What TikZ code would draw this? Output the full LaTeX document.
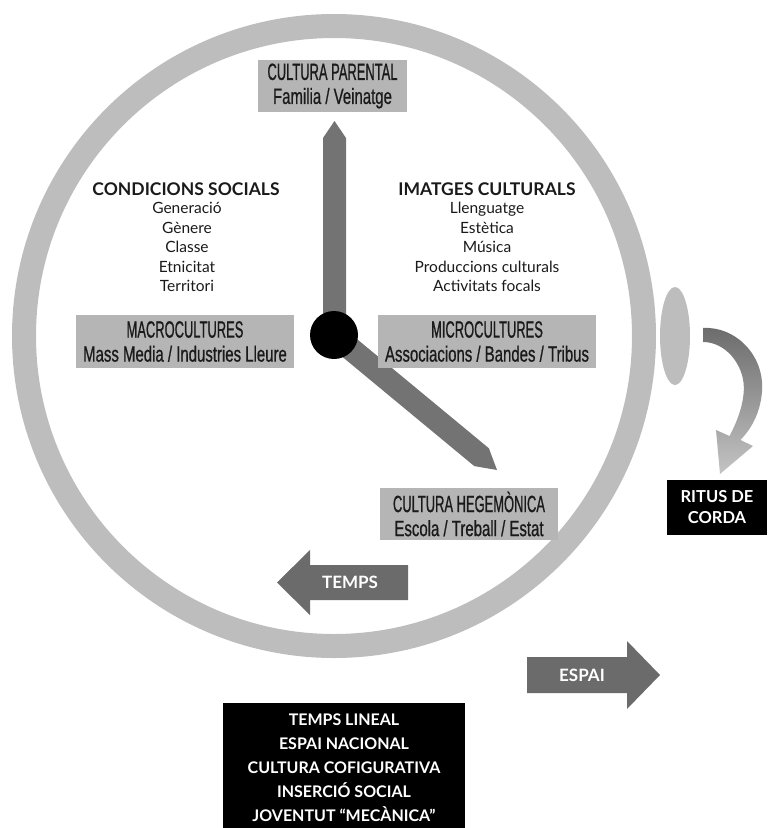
\documentclass[tikz,border=0pt]{standalone}
\usepackage{fontspec}
\setmainfont{Lato}
\newfontfamily\condA[FakeStretch=0.55,FakeBold=0.7]{Liberation Sans}
\newfontfamily\condB[FakeStretch=0.68,FakeBold=0.7]{Liberation Sans}
\newcommand{\boxtop}[1]{{\condA\fontsize{23.5}{24}\selectfont #1}}
\newcommand{\boxbot}[1]{{\condB\fontsize{22}{24}\selectfont #1}}
\usetikzlibrary{shapes.geometric,shapes.arrows}
\definecolor{ringgray}{HTML}{BDBDBD}
\definecolor{handgray}{HTML}{737373}
\definecolor{boxgray}{HTML}{B5B5B5}
\definecolor{arrowgray}{HTML}{6B6B6B}
\definecolor{textdark}{HTML}{1A1A1A}
\tikzset{
  graybox/.style={fill=boxgray, inner sep=0pt, align=center, text=textdark,
    font=\fontsize{22}{24}\selectfont},
  listtext/.style={align=center, text=textdark, font=\fontsize{15.5}{19.5}\selectfont},
  listtitle/.style={text=textdark, font=\bfseries\fontsize{17.5}{19}\selectfont},
  blackbox/.style={fill=black, text=white, inner sep=0pt, align=center,
    font=\bfseries\fontsize{16}{24}\selectfont},
  arrowtext/.style={text=white, font=\bfseries\fontsize{17}{18}\selectfont},
}
\begin{document}
\begin{tikzpicture}[x=1pt,y=-1pt]
\useasboundingbox (0,0) rectangle (768,828);

% clock ring
\node (clock) [circle, draw=ringgray, line width=24pt, minimum size=620pt, inner sep=0pt] at (334,336) {};
% crown
\node (crown) [ellipse, fill=ringgray, minimum width=30pt, minimum height=98pt, inner sep=0pt] at (675,336) {};

% hands
\coordinate (hubc) at (334,335);
\fill[handgray] (323,335) -- (323,138) -- (334.5,121) -- (346,138) -- (346,335) -- cycle;
\fill[handgray] (326.7,343.9) -- (474.3,466.1) -- (497,470) -- (488.9,448.3) -- (341.3,326.1) -- cycle;
\node (hub) [circle, fill=black, minimum size=48pt, inner sep=0pt] at (hubc) {};

% boxes
\node (parental) [graybox, minimum width=149pt, minimum height=52pt] at (332.5,86)
  {\boxtop{CULTURA PARENTAL}\\\boxbot{Familia / Veinatge}};
\node (macro) [graybox, minimum width=218pt, minimum height=53pt] at (185,341.5)
  {\boxtop{MACROCULTURES}\\\boxbot{Mass Media / Industries Lleure}};
\node (micro) [graybox, minimum width=218pt, minimum height=53pt] at (487,341.5)
  {\boxtop{MICROCULTURES}\\\boxbot{Associacions / Bandes / Tribus}};
\node (hegem) [graybox, minimum width=178pt, minimum height=52pt] at (469,514)
  {\boxtop{CULTURA HEGEMÒNICA}\\\boxbot{Escola / Treball / Estat}};

% lists
\node (condtitle) [listtitle] at (186,189) {CONDICIONS SOCIALS};
\node (condlist) [listtext, anchor=north] at (187,199) {Generació\\Gènere\\Classe\\Etnicitat\\Territori};
\node (imtitle) [listtitle] at (487,189) {IMATGES CULTURALS};
\node (imlist) [listtext, anchor=north] at (487,199) {Llenguatge\\Estètica\\Música\\Produccions culturals\\Activitats focals};

% curved arrow (ritus)
\shade[top color=arrowgray, bottom color=ringgray!90]
  (703,328) .. controls (735,326) and (765,355) .. (762,392)
  .. controls (760,415) and (750,430) .. (740.5,440)
  -- (753,446) -- (720,474) -- (716,430) -- (729.5,436)
  .. controls (738,420) and (748,395) .. (742,375)
  .. controls (736,355) and (720,342) .. (703,342) -- cycle;
\node (ritus) [blackbox, minimum width=100pt, minimum height=55pt, font=\bfseries\fontsize{16.5}{21}\selectfont] at (717,507.5) {RITUS DE\\CORDA};

% TEMPS arrow
\fill[arrowgray] (408,565) -- (310,565) -- (310,550) -- (277,582.5) -- (310,615) -- (310,600) -- (408,600) -- cycle;
\node (temps) [arrowtext] at (350,582.5) {TEMPS};

% ESPAI arrow
\fill[arrowgray] (527,657) -- (627,657) -- (627,641) -- (660,675) -- (627,709) -- (627,693) -- (527,693) -- cycle;
\node (espai) [arrowtext] at (582,675) {ESPAI};

% bottom box
\node (summary) [blackbox, minimum width=242pt, minimum height=130pt, anchor=north] at (344,703)
  {TEMPS LINEAL\\ESPAI NACIONAL\\CULTURA COFIGURATIVA\\INSERCIÓ SOCIAL\\JOVENTUT ``MECÀNICA''};
\end{tikzpicture}
\end{document}
